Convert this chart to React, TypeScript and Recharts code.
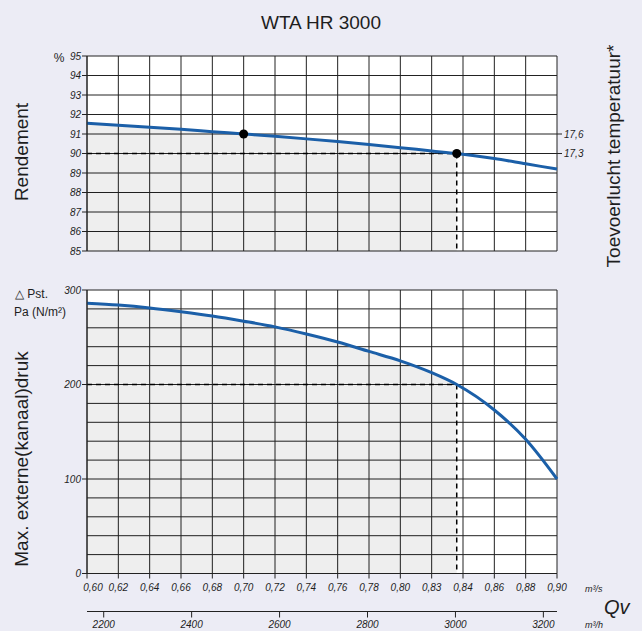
import { Area, CartesianGrid, ComposedChart, Line, ReferenceDot, ReferenceLine, XAxis, YAxis } from "recharts";

// flow (m³/s) sampled along both curves
const FLOW = [0.6, 0.62, 0.64, 0.66, 0.68, 0.7, 0.72, 0.74, 0.76, 0.78, 0.8, 0.82, 0.836, 0.86, 0.88, 0.9];
const EFFICIENCY = [91.55, 91.45, 91.35, 91.24, 91.12, 91.0, 90.88, 90.75, 90.61, 90.46, 90.3, 90.13, 90.0, 89.74, 89.47, 89.2];
const PRESSURE = [286, 284, 281, 277, 272.5, 267, 261, 253.5, 245, 235, 225, 212.5, 200, 173, 142, 100];

// working point
const OP_FLOW = 0.836;
const OP_EFF = 90;
const OP_PRESSURE = 200;
const DOT_FLOW = [0.7, OP_FLOW];
const DOT_EFF = [91.0, OP_EFF];

const FLOW_TICKS = [0.6, 0.62, 0.64, 0.66, 0.68, 0.7, 0.72, 0.74, 0.76, 0.78, 0.8, 0.82, 0.84, 0.86, 0.88, 0.9];
const FLOW_LABELS = ["0,60", "0,62", "0,64", "0,66", "0,68", "0,70", "0,72", "0,74", "0,76", "0,78", "0,80", "0,83", "0,84", "0,86", "0,88", "0,90"];
const FLOW_H_TICKS = [2200, 2400, 2600, 2800, 3000, 3200];
const FLOW_H_DOMAIN = [2162, 3231];
const EFF_TICKS = [85, 86, 87, 88, 89, 90, 91, 92, 93, 94, 95];
const TEMP_TICKS = [90, 91];
const TEMP_LABELS = ["17,3", "17,6"];
const PRESSURE_TICKS = [0, 100, 200, 300];
const PRESSURE_GRID = [0, 20, 40, 60, 80, 100, 120, 140, 160, 180, 200, 220, 240, 260, 280, 300];

const BG = "#ececf5";
const INK = "#1e1e1e";
const GRID = "#222";
const BLUE = "#1b5fa8";
const FONT = "'Liberation Sans', Arial, sans-serif";
const TICK = { fontSize: 10, fontStyle: "italic", fill: INK, fontFamily: FONT };

const effData = FLOW.map((q, i) => ({ q, v: EFFICIENCY[i] }));
const pressData = FLOW.map((q, i) => ({ q, v: PRESSURE[i] }));
const effShade = effData.filter((d) => d.q <= OP_FLOW);
const pressShade = pressData.filter((d) => d.q <= OP_FLOW);
// invisible helper so the m³/h axis has values of its own
const hourData = FLOW_H_TICKS.map((h) => ({ h, v: 0 }));

function flowLabel(v: number) {
  const i = FLOW_TICKS.indexOf(v);
  return i >= 0 ? FLOW_LABELS[i] : String(v);
}

function tempLabel(v: number) {
  const i = TEMP_TICKS.indexOf(v);
  return i >= 0 ? TEMP_LABELS[i] : "";
}

// first flow label is nudged right so it clears the "0" of the pressure axis
function FlowTick(props: any) {
  const { x, y, payload, index } = props;
  return (
    <text x={x} y={y} dx={index === 0 ? 6 : 0} dy="0.71em" textAnchor="middle" {...TICK}>
      {flowLabel(payload.value)}
    </text>
  );
}

export default function App() {
  return (
    <div style={{ position: "absolute", left: 0, top: 0, width: 642, height: 631, background: BG, overflow: "hidden", fontFamily: FONT }}>
      <div style={{ position: "absolute", left: 0, top: 0 }}>
        <ComposedChart width={642} height={270} data={effData} margin={{ top: 56, right: 45, left: 47, bottom: 19 }}>
          <CartesianGrid stroke={GRID} fill="#fff" yAxisId="l" verticalValues={FLOW_TICKS} horizontalValues={EFF_TICKS} />
          <XAxis dataKey="q" type="number" domain={[0.6, 0.9]} ticks={FLOW_TICKS} interval={0} hide />
          <YAxis
            yAxisId="l"
            type="number"
            domain={[85, 95]}
            ticks={EFF_TICKS}
            interval={0}
            width={40}
            tick={TICK}
            tickSize={5}
            tickMargin={1}
            axisLine={{ stroke: GRID }}
            tickLine={{ stroke: GRID }}
          />
          <YAxis
            yAxisId="r"
            orientation="right"
            type="number"
            domain={[85, 95]}
            ticks={TEMP_TICKS}
            interval={0}
            tickFormatter={tempLabel}
            width={40}
            tick={TICK}
            tickSize={5}
            tickMargin={2}
            axisLine={false}
            tickLine={{ stroke: GRID }}
            allowDataOverflow
          />
          <Area yAxisId="l" data={effShade} dataKey="v" type="monotone" fill="#000" fillOpacity={0.067} stroke="none" isAnimationActive={false} />
          <ReferenceLine yAxisId="l" segment={[{ x: 0.6, y: OP_EFF }, { x: OP_FLOW, y: OP_EFF }]} stroke="#000" strokeWidth={1.5} strokeDasharray="5 4" />
          <ReferenceLine yAxisId="l" segment={[{ x: OP_FLOW, y: OP_EFF }, { x: OP_FLOW, y: 85 }]} stroke="#000" strokeWidth={1.5} strokeDasharray="5 4" />
          <Line yAxisId="l" dataKey="v" type="monotone" stroke={BLUE} strokeWidth={3} dot={false} isAnimationActive={false} />
          {DOT_FLOW.map((q, i) => (
            <ReferenceDot key={q} yAxisId="l" x={q} y={DOT_EFF[i]} r={4.5} fill="#000" stroke="none" />
          ))}
        </ComposedChart>
      </div>

      <div style={{ position: "absolute", left: 0, top: 270 }}>
        <ComposedChart width={642} height={361} data={pressData} margin={{ top: 20, right: 85, left: 47, bottom: 0 }}>
          <CartesianGrid stroke={GRID} fill="#fff" verticalValues={FLOW_TICKS} horizontalValues={PRESSURE_GRID} />
          <XAxis
            dataKey="q"
            type="number"
            domain={[0.6, 0.9]}
            ticks={FLOW_TICKS}
            interval={0}
            height={38}
            tick={FlowTick}
            tickSize={5}
            tickMargin={5}
            axisLine={{ stroke: GRID }}
            tickLine={{ stroke: GRID }}
          />
          <XAxis
            xAxisId="h"
            dataKey="h"
            type="number"
            domain={FLOW_H_DOMAIN}
            ticks={FLOW_H_TICKS}
            interval={0}
            height={19.5}
            tick={TICK}
            tickSize={6}
            tickMargin={3}
            axisLine={{ stroke: GRID }}
            tickLine={{ stroke: GRID }}
            allowDataOverflow
          />
          <YAxis
            type="number"
            domain={[0, 300]}
            ticks={PRESSURE_TICKS}
            interval={0}
            width={40}
            tick={TICK}
            tickSize={5}
            tickMargin={1}
            axisLine={{ stroke: GRID }}
            tickLine={{ stroke: GRID }}
          />
          <Line xAxisId="h" data={hourData} dataKey="v" stroke="none" dot={false} activeDot={false} isAnimationActive={false} />
          <Area data={pressShade} dataKey="v" type="monotone" fill="#000" fillOpacity={0.067} stroke="none" isAnimationActive={false} />
          <ReferenceLine segment={[{ x: 0.6, y: OP_PRESSURE }, { x: OP_FLOW, y: OP_PRESSURE }]} stroke="#000" strokeWidth={1.5} strokeDasharray="5 4" />
          <ReferenceLine segment={[{ x: OP_FLOW, y: OP_PRESSURE }, { x: OP_FLOW, y: 0 }]} stroke="#000" strokeWidth={1.5} strokeDasharray="5 4" />
          <Line dataKey="v" type="monotone" stroke={BLUE} strokeWidth={3} dot={false} isAnimationActive={false} />
        </ComposedChart>
      </div>

      <svg width={642} height={631} style={{ position: "absolute", left: 0, top: 0, pointerEvents: "none" }} fontFamily={FONT} fill={INK}>
        <text x={321} y={29} textAnchor="middle" fontSize={19}>WTA HR 3000</text>
        <text x={59} y={62} textAnchor="middle" fontSize={12}>%</text>
        <text transform="translate(28,152) rotate(-90)" textAnchor="middle" fontSize={19}>Rendement</text>
        <text transform="translate(28,459) rotate(-90)" textAnchor="middle" fontSize={19}>Max. externe(kanaal)druk</text>
        <text transform="translate(620,156) rotate(-90)" textAnchor="middle" fontSize={19}>Toevoerlucht temperatuur*</text>
        <text x={15} y={298} fontSize={12}>△ Pst.</text>
        <text x={14} y={316} fontSize={12}>Pa (N/m²)</text>
        <text x={585} y={592} fontSize={9} fontStyle="italic">m³/s</text>
        <text x={604} y={614} fontSize={20} fontStyle="italic">Qv</text>
        <text x={585} y={628} fontSize={9} fontStyle="italic">m³/h</text>
      </svg>
    </div>
  );
}
